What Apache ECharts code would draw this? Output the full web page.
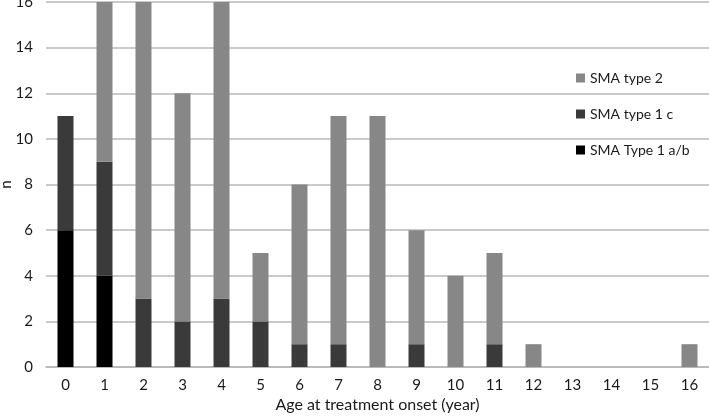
<!DOCTYPE html>
<html><head><meta charset="utf-8">
<script src="https://cdn.jsdelivr.net/npm/echarts@6/dist/echarts.min.js"></script>
<style>html,body{margin:0;padding:0;background:#fff}#c{width:709px;height:416px}</style>
</head><body><div id="c"></div>
<script>
const categories = ['0','1','2','3','4','5','6','7','8','9','10','11','12','13','14','15','16'];
const type1ab = [6,4,0,0,0,0,0,0,0,0,0,0,0,0,0,0,0];
const type1c  = [5,5,3,2,3,2,1,1,0,1,0,1,0,0,0,0,0];
const type2   = [0,7,13,10,13,3,7,10,11,5,4,4,1,0,0,0,1];
const yTicks = [0,2,4,6,8,10,12,14,16];

const chart = echarts.init(document.getElementById('c'));
const font = 'Lato, Open Sans, DejaVu Sans, sans-serif';
const mk = (name, data, color) => ({
  name, type: 'bar', stack: 's', data, barWidth: 16,
  itemStyle: { color }, emphasis: { disabled: true }
});
chart.setOption({
  animation: false,
  grid: { left: 46, right: 0, top: 2, bottom: 49, outerBoundsMode: 'none', containLabel: false },
  legend: {
    orient: 'vertical', left: 571, top: 66, itemGap: 22,
    itemWidth: 9, itemHeight: 9, icon: 'rect',
    textStyle: { fontSize: 14, color: '#1a1a1a', fontFamily: font },
    data: ['SMA type 2', 'SMA type 1 c', 'SMA Type 1 a/b']
  },
  xAxis: {
    type: 'category', data: categories,
    name: 'Age at treatment onset (year)', nameLocation: 'middle', nameGap: 30,
    nameMoveOverlap: false,
    nameTextStyle: { fontSize: 16, color: '#1a1a1a', fontFamily: font },
    axisLine: { lineStyle: { color: '#b5b5b5', width: 1.5 } },
    axisTick: { show: false },
    axisLabel: { fontSize: 15, color: '#1a1a1a', fontFamily: font, margin: 11 }
  },
  yAxis: {
    type: 'value', min: yTicks[0], max: yTicks[yTicks.length-1], interval: 2,
    name: 'n', nameLocation: 'middle', nameGap: 32,
    nameMoveOverlap: false,
    nameTextStyle: { fontSize: 15, color: '#1a1a1a', fontFamily: font },
    axisLine: { show: false }, axisTick: { show: false },
    axisLabel: { fontSize: 15, color: '#1a1a1a', fontFamily: font, margin: 13 },
    splitLine: { lineStyle: { color: '#b8b8b8', width: 1.5 } }
  },
  series: [
    mk('SMA Type 1 a/b', type1ab, '#000000'),
    mk('SMA type 1 c', type1c, '#3a3a3a'),
    mk('SMA type 2', type2, '#878787')
  ]
});
</script></body></html>
